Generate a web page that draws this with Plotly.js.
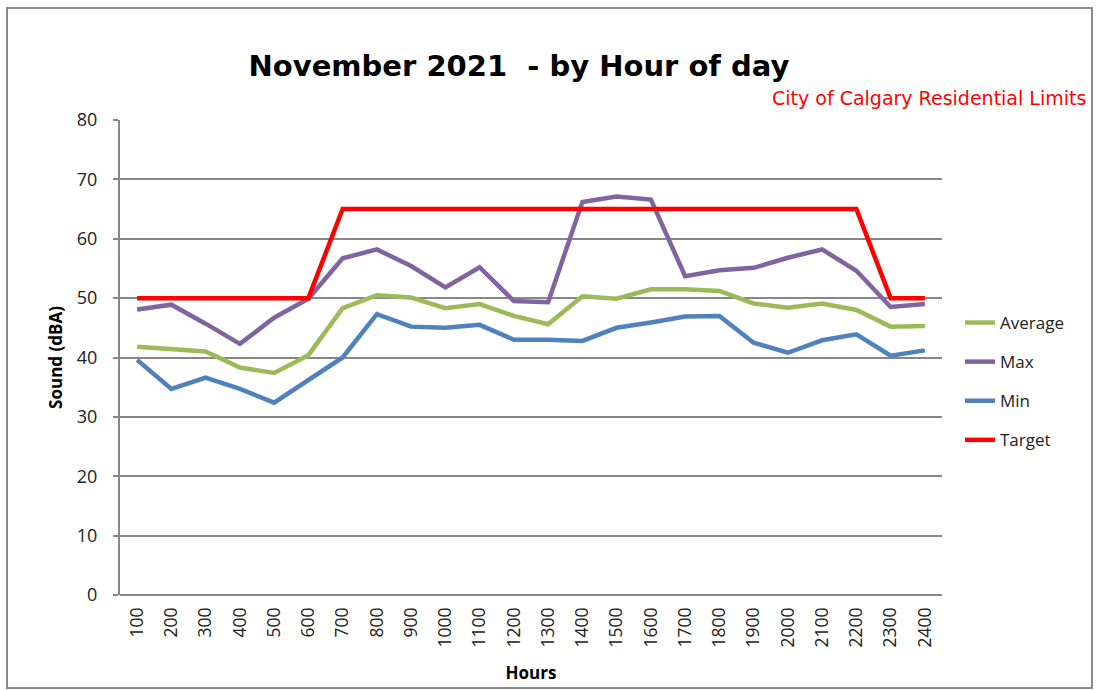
<!DOCTYPE html>
<html>
<head>
<meta charset="utf-8">
<script src="https://cdn.plot.ly/plotly-3.0.1.min.js"></script>
<style>
  html, body { margin: 0; padding: 0; background: #fff; }
  #chart { width: 1096px; height: 690px; }
</style>
</head>
<body>
<div id="chart"></div>
<script>
const hours = ["100","200","300","400","500","600","700","800","900","1000","1100","1200",
               "1300","1400","1500","1600","1700","1800","1900","2000","2100","2200","2300","2400"];
const average = [41.8,41.4,41.0,38.3,37.4,40.4,48.3,50.5,50.1,48.3,49.0,47.0,
                 45.6,50.3,49.9,51.5,51.5,51.2,49.1,48.4,49.1,48.0,45.2,45.3];
const maxVals = [48.1,48.9,45.7,42.3,46.7,49.9,56.7,58.2,55.4,51.8,55.2,49.5,
                 49.3,66.2,67.1,66.6,53.7,54.7,55.1,56.8,58.2,54.6,48.5,49.0];
const minVals = [39.6,34.7,36.6,34.7,32.4,36.2,40.0,47.3,45.2,45.0,45.5,43.0,
                 43.0,42.8,45.0,45.9,46.9,47.0,42.5,40.8,42.9,43.9,40.3,41.2];
const target = [50,50,50,50,50,50,65,65,65,65,65,65,
                65,65,65,65,65,65,65,65,65,65,50,50];
const seriesNames = ["Average","Max","Min","Target"];
const seriesColors = ["#9BBB59","#8064A2","#4F81BD","#FF0000"];
const seriesValues = [average, maxVals, minVals, target];

const FONT = "'Open Sans', 'Liberation Sans', sans-serif";
const WIDE = "'DejaVu Sans', 'Open Sans', sans-serif";

const traces = seriesValues.map((vals, i) => ({
  type: "scatter",
  mode: "lines",
  x: hours,
  y: vals,
  name: seriesNames[i],
  legendgroup: "g" + i,
  line: { color: seriesColors[i], width: 4.5 }
}));

const layout = {
  width: 1096,
  height: 690,
  margin: { l: 120, r: 154, t: 120, b: 95 },
  paper_bgcolor: "#ffffff",
  plot_bgcolor: "#ffffff",
  font: { family: FONT, color: "#222", size: 17 },
  title: {
    text: "<b>November 2021  - by Hour of day</b>",
    font: { family: WIDE, size: 29, color: "#000" },
    x: 519 / 1096, xanchor: "center",
    y: 1 - 66 / 690, yanchor: "middle"
  },
  xaxis: {
    type: "category",
    range: [-0.5, 23.5],
    tickangle: -90,
    showgrid: false,
    showline: false,
    ticks: "",
    ticklabelstandoff: 8,
    tickfont: { size: 17.5, color: "#222" },
    title: { text: "<b>Hours</b>", font: { size: 17, color: "#000" }, standoff: 20 }
  },
  yaxis: {
    range: [0, 80],
    dtick: 10,
    showgrid: true,
    gridcolor: "#878787",
    gridwidth: 2,
    zeroline: true,
    zerolinecolor: "#878787",
    zerolinewidth: 2,
    showline: true,
    linecolor: "#878787",
    linewidth: 2,
    ticks: "outside",
    ticklen: 5,
    tickcolor: "#878787",
    tickwidth: 2,
    ticklabelstandoff: 12,
    tickfont: { size: 18, color: "#222" },
    title: { text: "<b>Sound (dBA)</b>", font: { size: 17, color: "#000" }, standoff: 10 }
  },
  showlegend: true,
  legend: {
    x: (960 - 120) / 822, xanchor: "left",
    y: 1 - (305 - 120) / 475, yanchor: "top",
    font: { size: 17, color: "#222" },
    tracegroupgap: 14,
    bgcolor: "rgba(0,0,0,0)"
  },
  annotations: [{
    text: "City of Calgary Residential Limits",
    xref: "paper", yref: "paper",
    x: (1088 - 120) / 822, xanchor: "right",
    y: 1 - (98 - 120) / 475, yanchor: "middle",
    showarrow: false,
    font: { family: WIDE, size: 19, color: "#FF0000" }
  }],
  shapes: [{
    type: "rect",
    xref: "paper", yref: "paper",
    x0: (7 - 120) / 822, x1: (1092 - 120) / 822,
    y0: 1 - (688 - 120) / 475, y1: 1 - (8 - 120) / 475,
    line: { color: "#8a8a8a", width: 2 },
    fillcolor: "rgba(0,0,0,0)",
    layer: "below"
  }]
};

Plotly.newPlot("chart", traces, layout, { displayModeBar: false, staticPlot: true });
</script>
</body>
</html>
